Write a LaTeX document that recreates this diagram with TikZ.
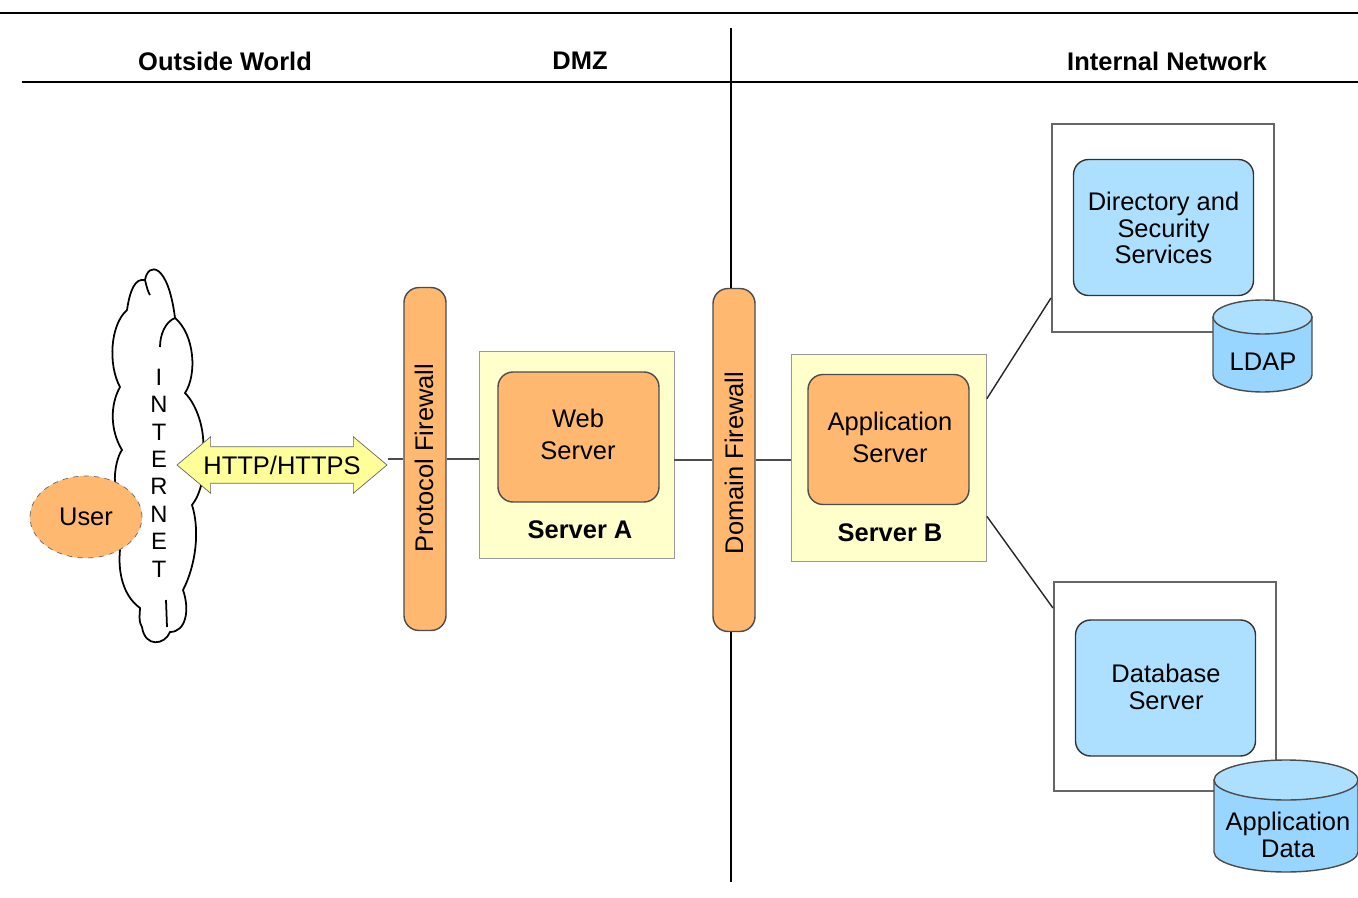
\documentclass[tikz,border=0pt]{standalone}
\usepackage{fontspec}
\setmainfont{Liberation Sans}
\usetikzlibrary{shapes.geometric,shapes.arrows}
\tikzset{
	txt/.style={font=\fontsize{14.5}{15.3}\selectfont,align=center,inner sep=0pt},
	head/.style={txt,font=\fontsize{14.5}{15.3}\selectfont\bfseries},
	wire/.style={thick,color=black!70},
	frontbox/.style={txt,draw=black!70,thick,fill=softorange,rounded corners=0.3cm},
	firewall/.style={frontbox,minimum width=0.84cm,minimum height=6.86cm},
	hostbox/.style={draw=black!40,fill=softyellow,minimum width=3.9cm,minimum height=4.14cm,inner sep=0pt},
	innerbox/.style={frontbox,minimum width=3.22cm,minimum height=2.6cm},
	outerbox/.style={draw=black!60,very thick,fill=white,minimum width=4.44cm,minimum height=4.17cm,inner sep=0pt},
	bluebox/.style={frontbox,fill=softblue,draw=black!80,minimum width=3.6cm,minimum height=2.72cm},
	storebody/.style={draw=black!70,thick,fill=bodyblue},
	storetop/.style={draw=black!70,thick,fill=softblue},
}
\begin{document}
\begin{tikzpicture}[x=0.02cm,y=-0.02cm]
	\definecolor{softorange}{RGB}{255,184,112}
	\definecolor{softyellow}{RGB}{255,255,204}
	\definecolor{softblue}{RGB}{173,224,255}
	\definecolor{bodyblue}{RGB}{153,214,255}
	\definecolor{arrowyellow}{RGB}{255,255,153}
	\useasboundingbox (0,0) rectangle (1358,898);
	% header rules
	\coordinate (topleft) at (0,13);
	\coordinate (topright) at (1358,13);
	\coordinate (midleft) at (22,82);
	\coordinate (midright) at (1358,82);
	\coordinate (dmztop) at (731,28);
	\coordinate (dmzbottom) at (731,882);
	\draw[thick] (topleft)--(topright);
	\draw[thick] (midleft)--(midright);
	\node[head] (outside) at (225,61) {Outside World};
	\node[head] (dmz) at (580,61) {DMZ};
	\node[head] (internal) at (1167,61) {Internal Network};
	% cloud
	\draw[line width=1pt,fill=white] (145,280) .. controls (148,262) and (168,262) .. (175,318)
		.. controls (195,335) and (197,375) .. (185,393)
		.. controls (197,405) and (205,430) .. (203,450)
		.. controls (206,475) and (200,495) .. (192,505)
		.. controls (200,530) and (196,565) .. (183,590)
		.. controls (190,610) and (186,632) .. (170,632)
		.. controls (165,645) and (145,648) .. (142,627)
		.. controls (138,620) and (140,615) .. (140,608)
		.. controls (122,595) and (118,570) .. (120,550)
		-- (115,483) .. controls (114,470) and (118,455) .. (122,450)
		.. controls (110,430) and (110,405) .. (120,387)
		.. controls (108,365) and (110,325) .. (127,310)
		.. controls (130,290) and (135,278) .. (145,280) -- cycle;
	\draw[line width=1pt] (145,280) .. controls (147,288) and (148,292) .. (150,295);
	\draw[line width=1pt] (175,318) .. controls (165,322) and (160,335) .. (160,347);
	\draw[line width=1pt] (166,600)--(167,627);
	\node[txt,font=\fontsize{13.5}{15.6}\selectfont] (internet) at (159,473) {I\\N\\T\\E\\R\\N\\E\\T};
	\node[txt,draw=black!60,dashed,fill=softorange,ellipse,minimum width=2.24cm,minimum height=1.64cm] (user) at (86,517) {User};
	% firewalls and servers
	\node[firewall] (protocolfw) at (425,459) {};
	\node[txt] (protocoltext) at (424,458) {\rotatebox{90}{Protocol Firewall}};
	\node[firewall] (domainfw) at (734,460) {};
	\node[txt] (domaintext) at (734,463) {\rotatebox{90}{Domain Firewall}};
	\node[hostbox] (servera) at (576.5,454.5) {};
	\node[innerbox] (web) at (578.5,437) {};
	\node[txt] (webtext) at (578,434) {Web\\[3pt]Server};
	\node[head] (serveraname) at (580,530) {Server A};
	\node[hostbox] (serverb) at (889,457.5) {};
	\node[innerbox] (application) at (888.5,439.5) {};
	\node[txt] (applicationtext) at (890,437) {Application\\[3pt]Server};
	\node[head] (serverbname) at (890,533) {Server B};
	\node[txt,double arrow,draw=black!60,fill=arrowyellow,double arrow tip angle=80,double arrow head extend=0.2cm,minimum height=4.2cm,inner ysep=0.17cm,inner xsep=0pt] (http) at (282,465) {HTTP/HTTPS};
	% internal network
	\node[outerbox] (directorybox) at (1163,228) {};
	\node[bluebox] (directory) at (1163.5,227.5) {};
	\node[txt] (directorytext) at (1163.5,228) {Directory and\\Security\\Services};
	\draw[storebody] (1213,317)--(1213,375) arc[start angle=180,end angle=360,x radius=0.99cm,y radius=0.34cm]--(1312,317)--cycle;
	\draw[storetop] (1262.5,317) ellipse [x radius=0.99cm,y radius=0.34cm];
	\node[txt] (ldaptext) at (1263,362) {LDAP};
	\node[outerbox] (databasebox) at (1165,686.5) {};
	\node[bluebox] (database) at (1165.5,688) {};
	\node[txt] (databasetext) at (1166,687) {Database\\Server};
	\draw[storebody] (1214,780)--(1214,852) arc[start angle=180,end angle=360,x radius=1.44cm,y radius=0.4cm]--(1358,780)--cycle;
	\draw[storetop] (1286,780) ellipse [x radius=1.44cm,y radius=0.4cm];
	\node[txt] (appdatatext) at (1288,835) {Application\\Data};
	% connectors
	\draw[thick] (dmztop)--(dmztop |- domainfw.north);
	\draw[thick] (dmzbottom)--(dmzbottom |- domainfw.south);
	\draw[wire] (http.east |- protocolfw.west)--(protocolfw.west);
	\draw[wire] (protocolfw.east)--(protocolfw.east -| servera.west);
	\draw[wire] (servera.east |- domainfw.west)--(domainfw.west);
	\draw[wire] (domainfw.east)--(domainfw.east -| serverb.west);
	\draw[wire,color=black!85] (serverb.31)--(directorybox.212);
	\draw[wire,color=black!85] (serverb.-31)--(databasebox.145);
\end{tikzpicture}
\end{document}
